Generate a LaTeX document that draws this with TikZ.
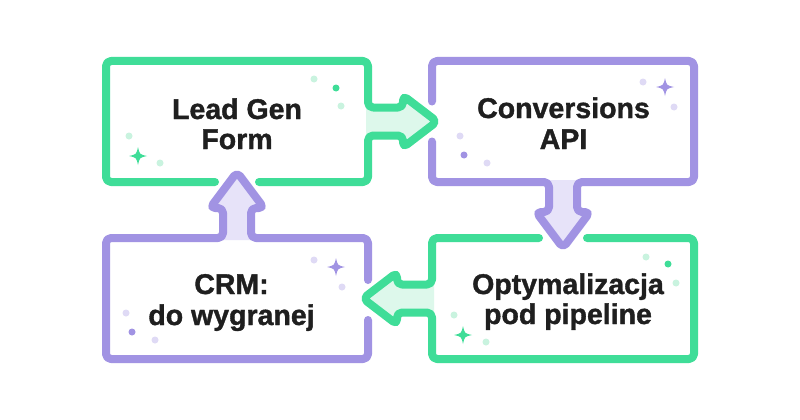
\documentclass[tikz,border=0pt]{standalone}
\usepackage{fontspec}
\setmainfont{Liberation Sans}[BoldFeatures={FakeBold=1.3}]
\definecolor{grn}{HTML}{3FDD98}
\definecolor{grnl}{HTML}{DDF8EB}
\definecolor{grnd}{HTML}{C9F3DF}
\definecolor{prp}{HTML}{A193E3}
\definecolor{prpl}{HTML}{E7E3F9}
\definecolor{prpd}{HTML}{DFDAF5}
\definecolor{ink}{HTML}{1F1F1F}
\tikzset{
  outline/.style={line width=8pt, rounded corners=5pt, line join=round, line cap=round},
  gline/.style={outline, draw=grn},
  pline/.style={outline, draw=prp},
  lbl/.style={anchor=base, text=ink, font=\fontsize{28.5}{30}\selectfont\bfseries, inner sep=0pt},
  sparkle/.pic={\fill (0,-9) .. controls (1.6,-1.6) .. (9,0) .. controls (1.6,1.6) .. (0,9) .. controls (-1.6,1.6) .. (-9,0) .. controls (-1.6,-1.6) .. (0,-9) -- cycle;}
}
\begin{document}
\begin{tikzpicture}[x=1pt,y=-1pt]
\useasboundingbox (0,0) rectangle (800,420);
\fill[white] (0,0) rectangle (800,420);
% arrow fills
\fill[grnl] (366,107.5) -- (403,107.5) -- (403,95.5) -- (437,121.5) -- (403,147.5) -- (403,135.5) -- (366,135.5) -- cycle;
\fill[prpl] (549,180) -- (549,212) -- (536,212) -- (563,248) -- (590,212) -- (577,212) -- (577,180) -- cycle;
\fill[grnl] (434,284.5) -- (397,284.5) -- (397,272.5) -- (363,298.5) -- (397,324.5) -- (397,312.5) -- (434,312.5) -- cycle;
\fill[prpl] (223,240) -- (223,208) -- (210,208) -- (237,172) -- (264,208) -- (251,208) -- (251,240) -- cycle;
% box outlines with arrows
\draw[gline] (259,182) -- (368,182) -- (368,135.5) -- (403,135.5) -- (403,147.5) -- (437,121.5) -- (403,95.5) -- (403,107.5) -- (368,107.5) -- (368,61) -- (106,61) -- (106,182) -- (215,182);
\draw[pline] (432,101.5) -- (432,61) -- (694,61) -- (694,182) -- (577,182) -- (577,212) -- (590,212) -- (563,248) -- (536,212) -- (549,212) -- (549,182) -- (432,182) -- (432,141.5);
\draw[gline] (587,238) -- (694,238) -- (694,359) -- (432,359) -- (432,312.5) -- (397,312.5) -- (397,324.5) -- (363,298.5) -- (397,272.5) -- (397,284.5) -- (432,284.5) -- (432,238) -- (539,238);
\draw[pline] (368,280) -- (368,238) -- (251,238) -- (251,208) -- (264,208) -- (237,172) -- (210,208) -- (223,208) -- (223,238) -- (106,238) -- (106,359) -- (368,359) -- (368,320);
% decorations top-left
\fill[grnd] (314,79) circle (3.5);
\fill[grn] (336,88) circle (3.5);
\fill[grnd] (341,106) circle (3.5);
\fill[grnd] (129,136) circle (3.5);
\fill[grnd] (160,163) circle (3.5);
\pic[fill=grn] at (138,156) {sparkle};
% top-right
\fill[prpd] (643,82) circle (3.5);
\fill[prpd] (674,107) circle (3.5);
\fill[prpd] (460,136) circle (3.5);
\fill[prp] (464,155) circle (3.5);
\fill[prpd] (487,163) circle (3.5);
\pic[fill=prp] at (665,87) {sparkle};
% bottom-left
\fill[prpd] (314,260) circle (3.5);
\fill[prpd] (342,287) circle (3.5);
\fill[prpd] (126,313) circle (3.5);
\fill[prp] (132,332) circle (3.5);
\fill[prpd] (155,340) circle (3.5);
\pic[fill=prp] at (336,267) {sparkle};
% bottom-right
\fill[grnd] (646,257) circle (3.5);
\fill[grn] (668,264) circle (3.5);
\fill[grnd] (676,283) circle (3.5);
\fill[grnd] (454,315) circle (3.5);
\fill[grnd] (486,342) circle (3.5);
\pic[fill=grn] at (463,335) {sparkle};
% labels
\node[lbl] (lg1) at (237,119) {Lead Gen};
\node[lbl] (lg2) at (237,149) {Form};
\node[lbl] (ca1) at (563.5,118) {Conversions};
\node[lbl] (ca2) at (563.5,149) {API};
\node[lbl] (cr1) at (231.5,294) {CRM:};
\node[lbl] (cr2) at (231.5,325) {do wygranej};
\node[lbl] (op1) at (568,294) {Optymalizacja};
\node[lbl] (op2) at (568,324) {pod pipeline};
\end{tikzpicture}
\end{document}
